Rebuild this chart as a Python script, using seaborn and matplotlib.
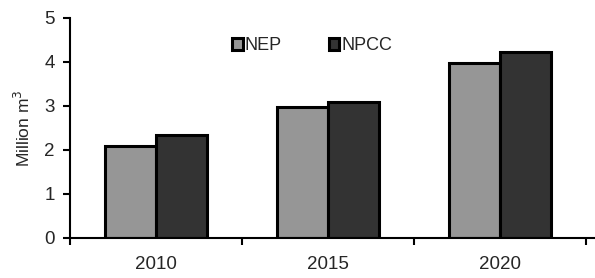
import pandas as pd
import seaborn as sns
import matplotlib.pyplot as plt
from matplotlib.ticker import FixedLocator

years = ["2010", "2015", "2020"]
nep = [2.08, 2.97, 3.98]
npcc = [2.35, 3.10, 4.22]
series = ["NEP", "NPCC"]
colors = ["#969696", "#333333"]

df = pd.DataFrame({
    "year": years * 2,
    "value": nep + npcc,
    "series": ["NEP"] * 3 + ["NPCC"] * 3,
})

sns.set_style("white")
plt.rcParams["font.family"] = ["Liberation Sans", "DejaVu Sans"]

fig = plt.figure(figsize=(5.95, 2.78), dpi=100)
ax = fig.add_axes([70 / 595, 40 / 278, 525 / 595, 220 / 278])

sns.barplot(data=df, x="year", y="value", hue="series", palette=colors,
            width=0.59, edgecolor="black", linewidth=2.2, ax=ax, legend=False)

ax.set_xlim(-0.5, -0.5 + 525 / 172)
ax.set_ylim(0, 5)
ax.set_yticks(range(6))
ax.xaxis.set_minor_locator(FixedLocator([-0.5, 0.5, 1.5, 2.5]))
ax.tick_params(axis="x", which="major", length=0, pad=13, labelsize=13.5)
ax.tick_params(axis="x", which="minor", length=5, width=1.5, direction="out", color="black")
ax.tick_params(axis="y", length=5, width=1.5, direction="out", color="black", labelsize=13.5, pad=6)
ax.tick_params(bottom=True, left=True, which="both")
for side in ["top", "right"]:
    ax.spines[side].set_visible(False)
for side in ["left", "bottom"]:
    ax.spines[side].set_color("black")
    ax.spines[side].set_linewidth(1.5)
ax.set_xlabel("")
ax.set_ylabel("Million m$^3$", fontsize=12.5, labelpad=8)

handles = [plt.Rectangle((0, 0), 1, 1, facecolor=c, edgecolor="black", linewidth=2.2) for c in colors]
fig.legend(handles, series, loc="center", bbox_to_anchor=(312 / 595, 1 - 46 / 278), ncol=2,
           frameon=False, fontsize=13, handlelength=0.6, handleheight=0.6,
           handletextpad=0.1, columnspacing=2.6)

fig.savefig("out.png", dpi=100)
